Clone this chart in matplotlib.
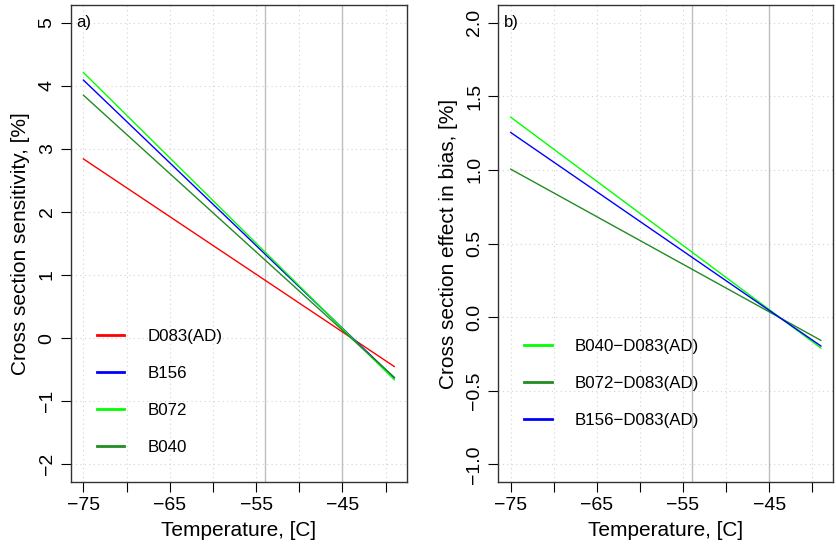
import matplotlib
matplotlib.use("Agg")
import matplotlib.pyplot as plt

plt.rcParams['font.family'] = ['Liberation Sans', 'DejaVu Sans']

# temperature end points of each fitted line
temp = [-75, -39]

# panel a) sensitivity, [%]
sens_names = ["D083(AD)", "B156", "B072", "B040"]
sens_cols = ["red", "blue", "#00FF00", "forestgreen"]
sens_vals = [[2.84, -0.45], [4.09, -0.63], [4.21, -0.66], [3.85, -0.62]]

# panel b) effect in bias, [%]
bias_names = ["B040\u2212D083(AD)", "B072\u2212D083(AD)", "B156\u2212D083(AD)"]
bias_cols = ["#00FF00", "forestgreen", "blue"]
bias_vals = [[1.358, -0.21], [1.005, -0.158], [1.254, -0.196]]

xticks = [-75, -70, -65, -60, -55, -50, -45, -40]
xlabels = ["\u221275", "", "\u221265", "", "\u221255", "", "\u221245", ""]
yticks_a = [-2, -1, 0, 1, 2, 3, 4, 5]
ylabels_a = ["\u22122", "\u22121", "0", "1", "2", "3", "4", "5"]
yticks_b = [-1.0, -0.5, 0.0, 0.5, 1.0, 1.5, 2.0]
ylabels_b = ["\u22121.0", "\u22120.5", "0.0", "0.5", "1.0", "1.5", "2.0"]
vlines = [-54, -45]

W, H = 837, 549
fig = plt.figure(figsize=(W / 100, H / 100), dpi=100)
ax1 = fig.add_axes([71 / W, 1 - 482 / H, 335.7 / W, 477 / H])
ax2 = fig.add_axes([498.3 / W, 1 - 482 / H, 335 / W, 477 / H])


def setup(ax, yticks, ylabels, ylim, ylab, tag):
    ax.set_xlim(-76.44, -37.56)
    ax.set_ylim(ylim)
    ax.set_xticks(xticks)
    ax.set_xticklabels(xlabels, fontsize=14)
    ax.set_yticks(yticks)
    ax.set_yticklabels(ylabels, fontsize=14, rotation=90, va='center')
    ax.tick_params(direction='out', length=7, width=0.8, pad=4)
    ax.grid(True, color='lightgray', linestyle=(0, (1, 3)), linewidth=0.8)
    ax.set_axisbelow(True)
    for s in ax.spines.values():
        s.set_linewidth(1.0)
        s.set_color('#333333')
    ax.set_xlabel("Temperature, [C]", fontsize=15, labelpad=5)
    ax.set_ylabel(ylab, fontsize=15, labelpad=6)
    ax.text(0.017, yticks[-1], tag, fontsize=12,
            transform=ax.get_yaxis_transform(), va='center', ha='left')


setup(ax1, yticks_a, ylabels_a, (-2.28, 5.28),
      "Cross section sensitivity, [%]", "a)")
setup(ax2, yticks_b, ylabels_b, (-1.12, 2.12),
      "Cross section effect in bias, [%]", "b)")

for ax in (ax1, ax2):
    for v in vlines:
        ax.axvline(v, color='#BEBEBE', linewidth=1.0, zorder=1)

for name, col, vals in zip(sens_names, sens_cols, sens_vals):
    ax1.plot(temp, vals, color=col, linewidth=1.0, label=name)
for name, col, vals in zip(bias_names, bias_cols, bias_vals):
    ax2.plot(temp, vals, color=col, linewidth=1.0, label=name)


def legend(ax, y):
    lg = ax.legend(loc='center left', bbox_to_anchor=(0.076, y), frameon=False,
                   fontsize=12.2, handlelength=1.65, handletextpad=1.35,
                   labelspacing=1.3, borderpad=0, borderaxespad=0)
    for h in lg.get_lines():
        h.set_linewidth(2.0)


legend(ax1, 0.188)
legend(ax2, 0.207)

fig.savefig("out.png", dpi=100)
